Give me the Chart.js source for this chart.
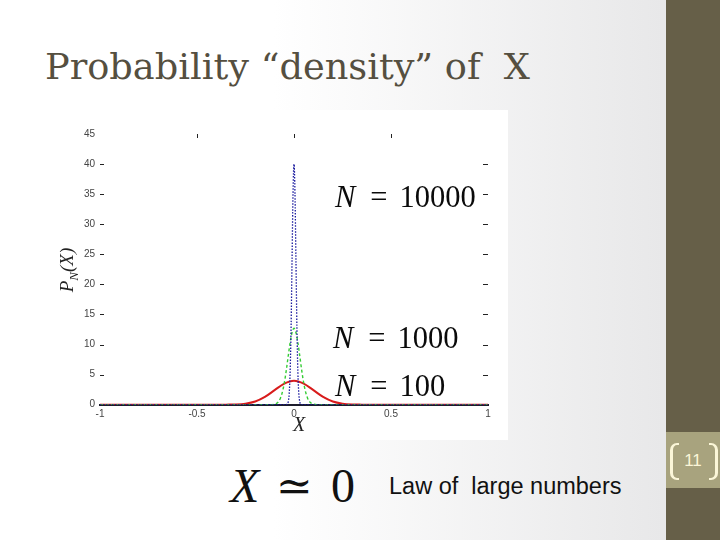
<!DOCTYPE html>
<html><head><meta charset="utf-8">
<script src="https://cdn.jsdelivr.net/npm/chart.js@4.4.0/dist/chart.umd.min.js"></script>
<style>
html,body{margin:0;padding:0;}
body{width:720px;height:540px;position:relative;overflow:hidden;background:linear-gradient(to right,#ffffff 0%,#ffffff 38%,#e8e8e9 92%);}
#side{position:absolute;left:666px;top:0;width:54px;height:540px;background:#665f48;}
#pbox{position:absolute;left:666px;top:432px;width:54px;height:56px;background:#a8a37e;}
.br{position:absolute;top:11px;width:6px;height:33px;border:0 solid #fbf6d8;}
#brl{left:4px;border-left-width:3px;border-top-width:2px;border-bottom-width:2px;border-radius:7px 0 0 7px;}
#brr{left:43px;border-right-width:3px;border-top-width:2px;border-bottom-width:2px;border-radius:0 7px 7px 0;}
#pnum{position:absolute;left:0;width:54px;top:20px;text-align:center;font:17px 'Liberation Sans Narrow','Liberation Sans',sans-serif;color:#fbf6d8;line-height:17px;}
#title{position:absolute;left:45px;top:50px;font:35px 'DejaVu Serif',serif;color:#554f40;line-height:1;white-space:pre;transform-origin:0 0;}
#plot{position:absolute;left:55px;top:110px;width:453px;height:330px;background:#fff;}
.ann{position:absolute;font:30.5px 'Liberation Serif',serif;color:#0a0a0a;line-height:1;white-space:pre;}
.ann i{margin-right:15px;}
.ann .eq{margin-right:12px;}
#ylab{position:absolute;left:38px;top:258px;width:60px;height:24px;line-height:24px;text-align:center;font:italic 19px 'Liberation Serif',serif;color:#222;transform:rotate(-90deg);}
#ylab sub{font-size:13px;}
#xlab{position:absolute;left:284px;top:414px;width:30px;text-align:center;font:italic 20px 'Liberation Serif',serif;color:#222;line-height:1;}
.big{position:absolute;top:462px;font:48px 'Liberation Serif',serif;color:#111;line-height:1;}
#law{position:absolute;left:389px;top:475px;font:23.5px 'Liberation Sans',Arial,sans-serif;color:#111;line-height:1;white-space:pre;}
</style></head>
<body>
<div id="side"></div>
<div id="pbox"><div class="br" id="brl"></div><div class="br" id="brr"></div><div id="pnum">11</div></div>
<div id="title">Probability “density” of  X</div>
<div id="plot"><canvas id="c" width="453" height="330"></canvas></div>
<div class="ann" style="left:335px;top:182px;"><i>N</i><span class="eq">=</span>10000</div>
<div class="ann" style="left:333px;top:323px;"><i>N</i><span class="eq">=</span>1000</div>
<div class="ann" style="left:335px;top:371px;"><i>N</i><span class="eq">=</span>100</div>
<div id="ylab">P<sub>N</sub>(X)</div>
<div id="xlab">X</div>
<div class="big" style="left:230px;"><i>X</i></div>
<div class="big" style="left:276px;font-family:'DejaVu Serif',serif;font-size:44px;top:464px;">≃</div>
<div class="big" style="left:331px;">0</div>
<div id="law">Law of  large numbers</div>
<script>
// ---- data ----
const xTicks = [-1, -0.5, 0, 0.5, 1];
const yTicks = [0, 5, 10, 15, 20, 25, 30, 35, 40, 45];
const yInnerTicks = [5, 10, 15, 20, 25, 30, 35, 40];
const xInnerTicks = [-0.5, 0, 0.5];

const xN10000 = [-1, -0.04, -0.035, -0.03, -0.025, -0.02, -0.015, -0.01, -0.005, 0, 0.005, 0.01, 0.015, 0.02, 0.025, 0.03, 0.035, 0.04, 1];
const pN10000 = [0, 0, 0.09, 0.44, 1.75, 5.4, 12.9, 24.2, 35.2, 40.0, 35.2, 24.2, 12.9, 5.4, 1.75, 0.44, 0.09, 0, 0];

const xN1000 = [-1, -0.12, -0.1, -0.09, -0.08, -0.07, -0.06, -0.05, -0.04, -0.03, -0.02, -0.01, 0, 0.01, 0.02, 0.03, 0.04, 0.05, 0.06, 0.07, 0.08, 0.09, 0.1, 0.12, 1];
const pN1000 = [0, 0.01, 0.09, 0.22, 0.51, 1.09, 2.08, 3.61, 5.66, 8.04, 10.3, 12.0, 12.7, 12.0, 10.3, 8.04, 5.66, 3.61, 2.08, 1.09, 0.51, 0.22, 0.09, 0.01, 0];

const xN100 = [-1, -0.4, -0.35, -0.3, -0.25, -0.2, -0.15, -0.1, -0.05, 0, 0.05, 0.1, 0.15, 0.2, 0.25, 0.3, 0.35, 0.4, 1];
const pN100 = [0, 0, 0.01, 0.04, 0.18, 0.54, 1.30, 2.42, 3.52, 4.0, 3.52, 2.42, 1.30, 0.54, 0.18, 0.04, 0.01, 0, 0];

const pts = (xs, ys) => xs.map((x, i) => ({x: x, y: ys[i]}));

// fit title width
(function(){
  const t = document.getElementById('title');
  const w = t.getBoundingClientRect().width;
  t.style.transform = 'scaleX(' + (485 / w) + ')';
})();

const innerTicks = {
  id: 'innerTicks',
  afterDraw(chart) {
    const ctx = chart.ctx, a = chart.chartArea, x = chart.scales.x, y = chart.scales.y;
    ctx.save();
    ctx.strokeStyle = '#222'; ctx.lineWidth = 1;
    ctx.beginPath();
    yInnerTicks.forEach(v => {
      const py = Math.round(y.getPixelForValue(v)) + 0.5;
      ctx.moveTo(a.left, py); ctx.lineTo(a.left + 4, py);
      ctx.moveTo(a.right - 5, py); ctx.lineTo(a.right, py);
    });
    xInnerTicks.forEach(v => {
      const px = Math.round(x.getPixelForValue(v)) + 0.5;
      ctx.moveTo(px, a.top); ctx.lineTo(px, a.top + 4);
    });
    ctx.stroke();
    ctx.restore();
  }
};

new Chart(document.getElementById('c'), {
  type: 'scatter',
  data: {
    datasets: [
      {label: 'N = 10000', data: pts(xN10000, pN10000), showLine: true, borderColor: '#1a1a9e', borderWidth: 1.3, borderDash: [1.5, 1.5], pointRadius: 0, cubicInterpolationMode: 'monotone'},
      {label: 'N = 1000', data: pts(xN1000, pN1000), showLine: true, borderColor: '#33cc33', borderWidth: 1.4, borderDash: [3, 2.5], pointRadius: 0, cubicInterpolationMode: 'monotone'},
      {label: 'N = 100', data: pts(xN100, pN100), showLine: true, borderColor: '#d81c1c', borderWidth: 2, pointRadius: 0, cubicInterpolationMode: 'monotone'}
    ]
  },
  options: {
    responsive: false,
    animation: false,
    devicePixelRatio: 1,
    layout: {padding: {top: 24, right: 20, left: 0, bottom: 0}},
    plugins: {legend: {display: false}, tooltip: {enabled: false}},
    scales: {
      x: {
        type: 'linear', min: -1, max: 1, z: 1,
        afterBuildTicks: s => { s.ticks = xTicks.map(v => ({value: v})); },
        afterFit: s => { s.height = 35.3; },
        grid: {display: false, drawTicks: false},
        border: {display: true, color: '#1c1c2c', width: 2},
        ticks: {padding: 4, color: '#444', font: {family: 'Liberation Sans', size: 10}, callback: v => String(v), maxRotation: 0}
      },
      y: {
        type: 'linear', min: 0, max: 45,
        afterBuildTicks: s => { s.ticks = yTicks.map(v => ({value: v})); },
        afterFit: s => { s.width = 45; },
        grid: {display: false, drawTicks: false},
        border: {display: false},
        ticks: {padding: 5, color: '#444', font: {family: 'Liberation Sans', size: 10}, callback: v => String(v)}
      }
    }
  },
  plugins: [innerTicks]
});
</script>
</body></html>
